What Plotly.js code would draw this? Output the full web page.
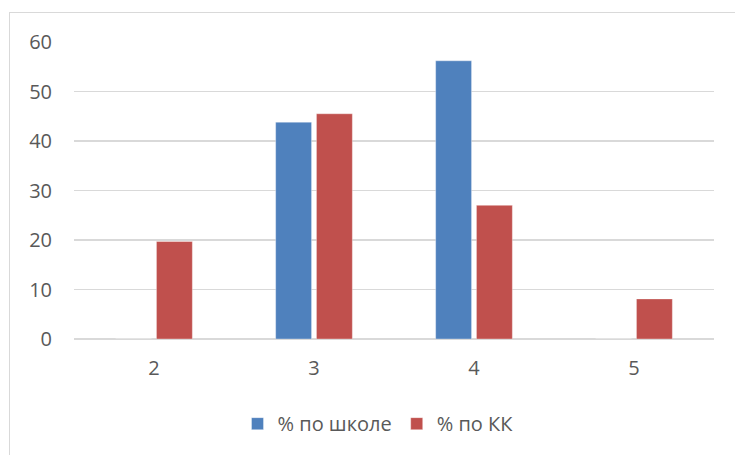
<!DOCTYPE html>
<html>
<head>
<meta charset="utf-8">
<script src="https://cdn.plot.ly/plotly-3.0.1.min.js"></script>
<style>
  html, body { margin: 0; padding: 0; background: #fff; }
  #frame { position: absolute; left: 9px; top: 12px; width: 760px; height: 470px; border: 1.5px solid #d9d9d9; box-sizing: border-box; }
  #chart { position: absolute; left: 0; top: 0; width: 735px; height: 455px; }
</style>
</head>
<body>
<div id="frame"></div>
<div id="chart"></div>
<script>
const categories = ["2", "3", "4", "5"];
const schoolValues = [0, 43.8, 56.2, 0];
const kkValues = [19.7, 45.5, 27.0, 8.1];
const seriesNames = ["% по школе", "% по КК"];
const yTicks = [0, 10, 20, 30, 40, 50, 60];

const textColor = "#595959";
const font = { family: "Open Sans, Liberation Sans, sans-serif", size: 20, color: textColor };

const traces = [
  { type: "bar", name: seriesNames[0], x: categories, y: schoolValues,
    marker: { color: "#4f81bd", line: { color: "rgba(255,255,255,0.35)", width: 1 } } },
  { type: "bar", name: seriesNames[1], x: categories, y: kkValues,
    marker: { color: "#c0504d", line: { color: "rgba(255,255,255,0.35)", width: 1 } } }
];

const layout = {
  width: 735, height: 455,
  paper_bgcolor: "rgba(0,0,0,0)", plot_bgcolor: "rgba(0,0,0,0)",
  margin: { l: 73.5, r: 20.5, t: 42.3, b: 115.7, pad: 0 },
  barmode: "group", bargap: 0.49, bargroupgap: 0.12,
  font: font,
  showlegend: true,
  legend: { orientation: "h", x: 0.475, xanchor: "center", y: -0.285, yanchor: "middle",
            font: font, itemwidth: 30, bgcolor: "rgba(0,0,0,0)" },
  xaxis: { type: "category", showgrid: false, zeroline: false, showline: false,
           ticks: "", ticklabelstandoff: 15, tickfont: font },
  yaxis: { range: [0, 60], tickvals: yTicks, ticktext: yTicks.map(String),
           showgrid: true, gridcolor: "#d9d9d9", gridwidth: 1.3,
           zeroline: true, zerolinecolor: "#d9d9d9", zerolinewidth: 1.5,
           showline: false, ticks: "", ticklabelstandoff: 21, tickfont: font }
};

Plotly.newPlot("chart", traces, layout, { displayModeBar: false, staticPlot: true });
</script>
</body>
</html>
